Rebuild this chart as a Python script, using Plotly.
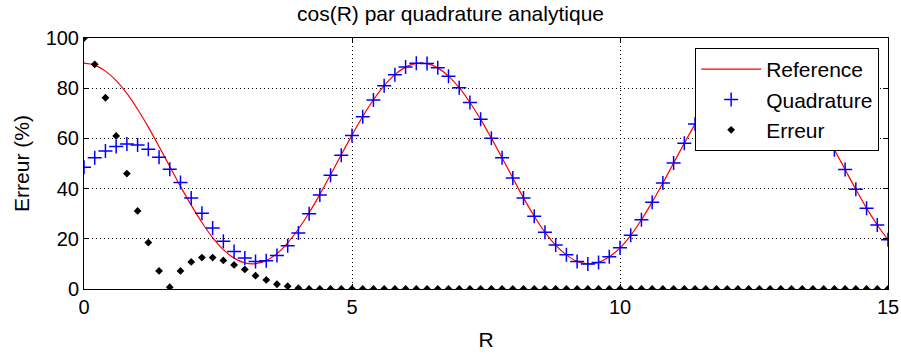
import plotly.graph_objects as go

# abscisses R (pas de 0.2)
r_values = [round(i * 0.2, 1) for i in range(76)]

reference = [90.0, 89.2, 86.8, 83.0, 77.9, 71.6, 64.5, 56.8, 48.8, 40.9,
             33.4, 26.5, 20.5, 15.7, 12.3, 10.4, 10.1, 11.3, 14.1, 18.4,
             23.9, 30.4, 37.7, 45.5, 53.5, 61.3, 68.7, 75.4, 81.0, 85.4,
             88.4, 89.9, 89.8, 88.1, 84.8, 80.2, 74.3, 67.6, 60.1, 52.3,
             44.2, 36.3, 29.0, 22.6, 17.5, 13.6, 11.0, 10.0, 10.6, 12.8,
             16.4, 21.4, 27.6, 34.6, 42.2, 50.2, 58.1, 65.7, 72.7, 78.8,
             83.8, 87.3, 89.4, 90.0, 89.0, 86.3, 82.2, 76.8, 70.4, 63.3,
             55.5, 47.6, 39.7, 32.2, 25.5, 19.6]

quadrature = [48.5, 52.3, 55.0, 56.8, 57.8, 57.4, 55.7, 52.5, 47.7, 42.4,
              36.3, 30.2, 24.3, 19.0, 14.9, 12.4, 11.0, 11.3, 13.3, 17.2,
              22.3, 30.0, 37.5, 45.3, 53.3, 61.2, 68.6, 75.3, 81.0, 85.4,
              88.4, 89.9, 89.8, 88.1, 84.8, 80.2, 74.3, 67.6, 60.1, 52.3,
              44.2, 36.3, 29.0, 22.6, 17.5, 13.6, 11.0, 10.0, 10.6, 12.8,
              16.4, 21.4, 27.6, 34.6, 42.2, 50.2, 58.1, 65.7, 72.7, 78.8,
              83.8, 87.3, 89.4, 90.0, 89.0, 86.3, 82.2, 76.8, 70.4, 63.3,
              55.5, 47.6, 39.7, 32.2, 25.5, 19.6]

erreur = [100.0, 89.5, 76.2, 61.0, 46.0, 31.1, 18.5, 7.2, 0.7, 7.2,
          10.8, 12.5, 12.5, 11.4, 9.6, 7.8, 5.3, 3.6, 1.9, 1.1,
          0.3] + [0.0] * 55

font = "Liberation Sans, Arial, sans-serif"

fig = go.Figure()
fig.add_trace(go.Scatter(x=r_values, y=reference, mode="lines", name="Reference",
                         line=dict(color="red", width=1.2, shape="spline")))
fig.add_trace(go.Scatter(x=r_values, y=quadrature, mode="markers", name="Quadrature",
                         marker=dict(symbol="cross-thin", size=10, color="blue",
                                     line=dict(color="blue", width=1.5))))
fig.add_trace(go.Scatter(x=r_values, y=erreur, mode="markers", name="Erreur",
                         marker=dict(symbol="diamond", size=6, color="black")))

axis_style = dict(showline=True, linecolor="black", linewidth=1, mirror="ticks",
                  ticks="inside", ticklen=5, tickcolor="black",
                  showgrid=True, gridcolor="black", gridwidth=1, griddash="1px,3px",
                  zeroline=False, ticklabeloverflow="allow", automargin=False,
                  tickfont=dict(size=20, color="black"))

fig.update_layout(
    width=901, height=354,
    margin=dict(l=84, r=13, t=38, b=65),
    paper_bgcolor="white", plot_bgcolor="white",
    font=dict(family=font, color="black"),
    title=dict(text="cos(R) par quadrature analytique", x=0.5, xanchor="center",
               y=0.962, yanchor="middle", font=dict(size=21, color="black")),
    xaxis=dict(range=[0, 15], tickvals=[0, 5, 10, 15],
               title=dict(text="R", font=dict(size=21), standoff=15), **axis_style),
    yaxis=dict(range=[0, 100], tickvals=[0, 20, 40, 60, 80, 100],
               title=dict(text="Erreur (%)", font=dict(size=21), standoff=10), **axis_style),
    legend=dict(x=0.989, y=0.96, xanchor="right", yanchor="top",
                bgcolor="white", bordercolor="black", borderwidth=1,
                font=dict(size=21, color="black"), itemwidth=60),
    showlegend=True,
)

fig.write_html("out.html", config={"displayModeBar": False},
               post_script="document.body.style.margin='0';")
